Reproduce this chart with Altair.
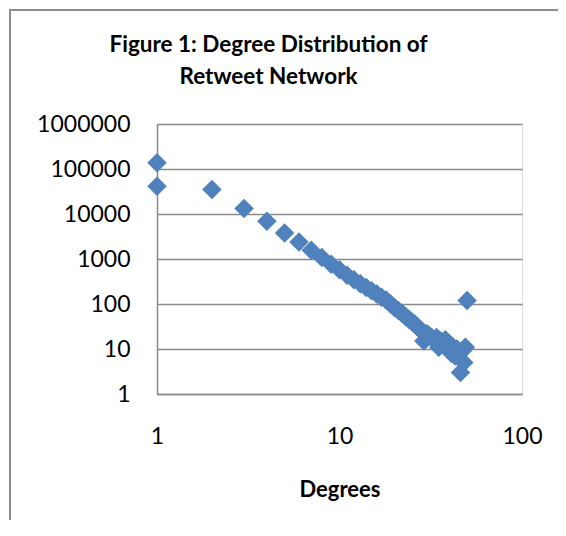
import altair as alt
import pandas as pd

degrees = [1, 1, 2, 3, 4, 5, 6, 7, 8, 9, 10, 11, 12, 13, 14, 15, 16, 17, 18, 19, 20,
           21, 22, 23, 24, 25, 26, 27, 28, 29, 30, 31, 32, 33, 34, 35, 36, 37, 38, 39, 40,
           41, 42, 43, 44, 45, 46, 47, 48, 49, 50]
counts = [137000, 41600, 35100, 13300, 6900, 3800, 2400, 1570, 1080, 765, 580, 435, 345, 281,
          232, 196, 166, 142, 122, 101, 84, 72, 62, 53, 46, 40, 35, 30, 26, 15, 22, 20, 18, 16,
          18, 11, 15, 13, 16, 10, 13, 8, 11, 7, 10, 8, 3, 9, 5, 11, 120]

y_ticks = [1, 10, 100, 1000, 10000, 100000, 1000000]
x_ticks = [1, 10, 100]
title_lines = ["Figure 1: Degree Distribution of", "Retweet Network"]
x_title = "Degrees"

df = pd.DataFrame({"degree": degrees, "count": counts})
one = pd.DataFrame({"k": [0]})

FONT = "Lato"
GRID = "#8a8a8a"
FRAME = "#8c8c8c"

frame_left = alt.Chart(one).mark_rect(fill=FRAME, strokeWidth=0).encode(
    x=alt.value(-148), x2=alt.value(-146), y=alt.value(-115), y2=alt.value(396),
)
frame_top = alt.Chart(one).mark_rect(fill=FRAME, strokeWidth=0).encode(
    x=alt.value(-148), x2=alt.value(401), y=alt.value(-115), y2=alt.value(-113),
)

points = alt.Chart(df).mark_point(
    shape="diamond", filled=True, size=380, color="#4F81BD", opacity=1
).encode(
    x=alt.X("degree:Q",
            scale=alt.Scale(type="log", domain=[1, 100], nice=False),
            axis=alt.Axis(values=x_ticks, format="d", title=x_title, grid=False,
                          ticks=False, labelPadding=31, labelFlush=False,
                          labelOverlap=False, domainColor=GRID, domainWidth=1.5,
                          labelFont=FONT, labelFontSize=23, labelColor="#000",
                          titleFont=FONT, titleFontSize=22, titleFontWeight="bold",
                          titleColor="#000", titleY=102, titleBaseline="alphabetic")),
    y=alt.Y("count:Q",
            scale=alt.Scale(type="log", domain=[1, 1000000], nice=False),
            axis=alt.Axis(values=y_ticks, format="d", title=None, grid=True,
                          gridColor=GRID, gridWidth=1.5, ticks=False, labelPadding=27,
                          labelOverlap=False, labelFlush=False, domainColor=GRID,
                          domainWidth=1.5, labelFont=FONT, labelFontSize=23,
                          labelColor="#000")),
)

chart = alt.layer(frame_left, frame_top, points).properties(
    width=365,
    height=270,
    padding={"left": 149, "top": 116, "right": 36, "bottom": 126},
    autosize=alt.AutoSizeParams(type="none"),
    title=alt.TitleParams(text=title_lines, font=FONT, fontSize=22.5, fontWeight="bold",
                          color="#000", lineHeight=32, anchor="middle", dx=-71,
                          baseline="top", offset=0, dy=79),
).configure_view(stroke=None).configure(background="white")

chart.save("out.html", embed_options={"renderer": "svg", "actions": False})
